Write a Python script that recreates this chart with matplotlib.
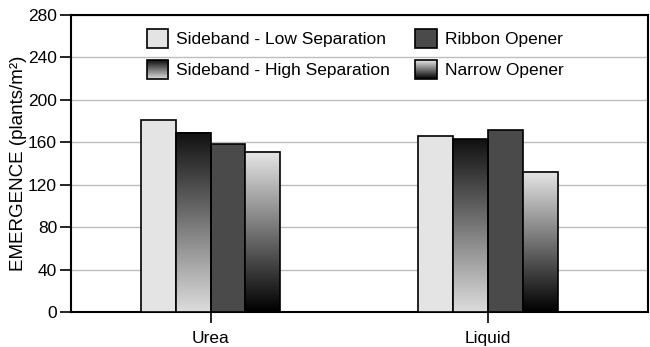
import numpy as np
import matplotlib
matplotlib.use("Agg")
import matplotlib.pyplot as plt
from matplotlib.patches import Rectangle
from matplotlib.legend_handler import HandlerBase
from matplotlib.image import BboxImage
from matplotlib.transforms import Bbox, TransformedBbox
from matplotlib.colors import LinearSegmentedColormap

plt.rcParams['font.family'] = ['Liberation Sans', 'DejaVu Sans']

categories = ['Urea', 'Liquid']
series_names = ['Sideband - Low Separation', 'Sideband - High Separation',
                'Ribbon Opener', 'Narrow Opener']
low_sep = [181, 166]
high_sep = [169, 163]
ribbon = [158, 172]
narrow = [151, 132]
values = [low_sep, high_sep, ribbon, narrow]

# fill for each series: solid colour or a vertical gradient (top colour, bottom colour)
fills = [('solid', '#e4e4e4'),
         ('grad', ('#111111', '#dcdcdc')),
         ('solid', '#4a4a4a'),
         ('grad', ('#e6e6e6', '#000000'))]


def grad_cmap(top, bottom):
    return LinearSegmentedColormap.from_list('g', [bottom, top])


class GradientHandle:
    def __init__(self, top, bottom):
        self.top = top
        self.bottom = bottom


class HandlerGradient(HandlerBase):
    def create_artists(self, legend, orig_handle, xdescent, ydescent,
                       width, height, fontsize, trans):
        bb = TransformedBbox(Bbox.from_bounds(-xdescent, -ydescent, width, height), trans)
        img = BboxImage(bb, cmap=grad_cmap(orig_handle.top, orig_handle.bottom),
                        interpolation='bilinear', origin='lower')
        img.set_data(np.linspace(0, 1, 64).reshape(-1, 1))
        rect = Rectangle((-xdescent, -ydescent), width, height, transform=trans,
                         fc='none', ec='black', lw=1.2)
        return [img, rect]


class HandlerSquare(HandlerBase):
    def create_artists(self, legend, orig_handle, xdescent, ydescent,
                       width, height, fontsize, trans):
        rect = Rectangle((-xdescent, -ydescent), width, height, transform=trans,
                         fc=orig_handle.get_facecolor(), ec='black', lw=1.2)
        return [rect]


fig = plt.figure(figsize=(6.5, 3.47), dpi=100)
ax = fig.add_axes([71 / 650, 35 / 347, 577 / 650, 297 / 347])

x = np.arange(len(categories))
width = 0.126
offsets = (np.arange(4) - 1.5) * width

handles = []
for i, (vals, (kind, col)) in enumerate(zip(values, fills)):
    xs = x + offsets[i]
    if kind == 'solid':
        ax.bar(xs, vals, width, color=col, edgecolor='black', linewidth=1.2, zorder=3)
        handles.append(Rectangle((0, 0), 1, 1, fc=col))
    else:
        top, bottom = col
        bars = ax.bar(xs, vals, width, color='none', edgecolor='black', linewidth=1.2, zorder=4)
        for b in bars:
            bx, bw, bh = b.get_x(), b.get_width(), b.get_height()
            ax.imshow(np.linspace(0, 1, 128).reshape(-1, 1), cmap=grad_cmap(top, bottom),
                      origin='lower', extent=(bx, bx + bw, 0, bh), aspect='auto',
                      interpolation='bilinear', zorder=3)
        handles.append(GradientHandle(top, bottom))

ax.set_xlim(-0.503, 1.577)
ax.set_ylim(0, 280)
ax.set_yticks(np.arange(0, 281, 40))
ax.set_xticks(x)
ax.set_xticklabels(categories)
ax.tick_params(axis='both', labelsize=12.5, width=1.2, length=8, color='black')
ax.tick_params(axis='x', pad=6)
ax.tick_params(axis='y', pad=2)
ax.grid(axis='y', color='#bdbdbd', linewidth=1, zorder=0)
ax.set_axisbelow(True)
for s in ax.spines.values():
    s.set_linewidth(1.5)
ax.set_ylabel('EMERGENCE (plants/m²)', fontsize=13.5, labelpad=1)

leg = ax.legend(handles, series_names,
                ncol=2, loc='upper left', bbox_to_anchor=(0.131, 0.953),
                frameon=False, fontsize=12.5, borderpad=0, borderaxespad=0,
                columnspacing=1.45, handletextpad=0.46,
                handlelength=1.25, handleheight=1.28, labelspacing=0.72,
                handler_map={GradientHandle: HandlerGradient(),
                             Rectangle: HandlerSquare()})

fig.savefig('out.png', dpi=100)
